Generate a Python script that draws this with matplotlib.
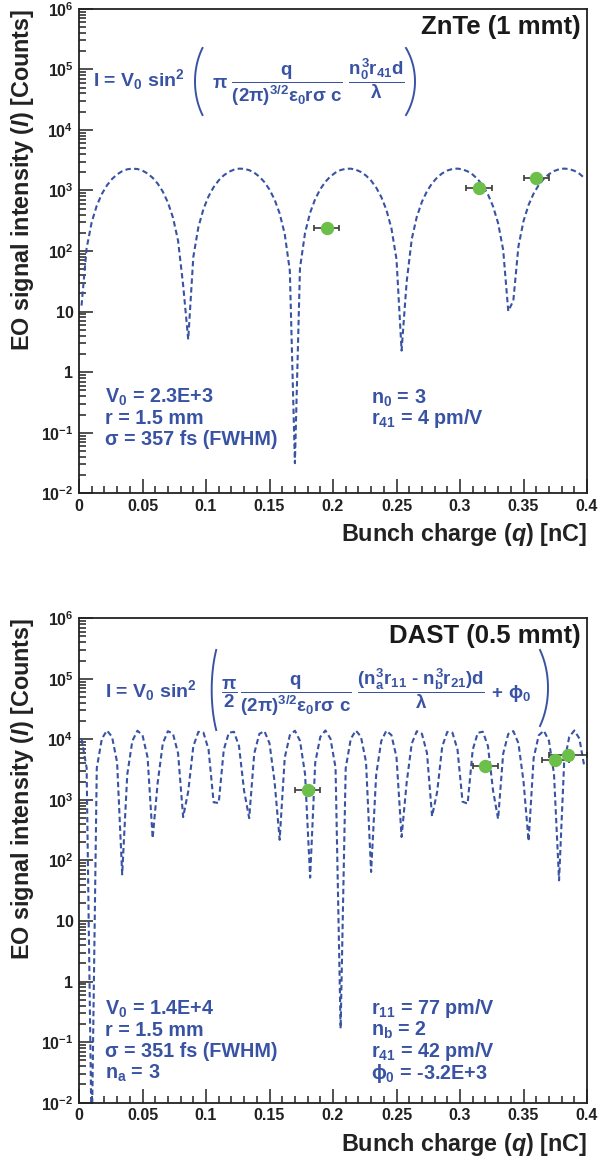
import numpy as np
import matplotlib
matplotlib.use('Agg')
import matplotlib.pyplot as plt
from matplotlib.lines import Line2D
from matplotlib.ticker import MultipleLocator, FixedLocator, FuncFormatter, NullFormatter

plt.rcParams['font.family'] = ['Liberation Sans', 'DejaVu Sans']
plt.rcParams['font.weight'] = 'bold'
plt.rcParams['axes.labelweight'] = 'bold'
plt.rcParams['mathtext.fontset'] = 'custom'
plt.rcParams['mathtext.rm'] = 'Liberation Sans:bold'
plt.rcParams['mathtext.it'] = 'Liberation Sans:bold'
plt.rcParams['mathtext.bf'] = 'Liberation Sans:bold'
plt.rcParams['mathtext.sf'] = 'Liberation Sans:bold:italic'
plt.rcParams['mathtext.fallback'] = 'stixsans'

BLUE = '#3953a4'
GREEN = '#6cc04a'
W, H = 615, 1157

# ZnTe (1 mmt) measurements
zn_q = [0.195, 0.315, 0.360]
zn_counts = [240, 1080, 1580]
zn_qerr = [0.010, 0.010, 0.010]
# model curve parameters
zn_v0 = 2.3e3
zn_first_zero = 0.0
zn_zero_spacing = 0.08495

# DAST (0.5 mmt) measurements
dast_q = [0.180, 0.320, 0.375, 0.385]
dast_counts = [1450, 3600, 4500, 5600]
dast_qerr = [0.010, 0.010, 0.0105, 0.015]
dast_v0 = 1.4e4
dast_first_zero = 0.010003
dast_zero_spacing = 0.024503

# the function is sampled at 100 bin centres over [0, 0.4]
q_fn = np.arange(100) * 0.004 + 0.002

y_decades = [1e-2, 1e-1, 1, 10, 1e2, 1e3, 1e4, 1e5, 1e6]

zn_lines_left = [r'V$_0$ = 2.3E+3', 'r = 1.5 mm', 'σ = 357 fs (FWHM)']
zn_lines_right = [r'n$_0$ = 3', r'r$_{41}$ = 4 pm/V']
dast_lines_left = [r'V$_0$ = 1.4E+4', 'r = 1.5 mm', 'σ = 351 fs (FWHM)', r'n$_a$ = 3']
dast_lines_right = [r'r$_{11}$ = 77 pm/V', r'n$_b$ = 2', r'r$_{41}$ = 42 pm/V', r'$\phi_0$ = -3.2E+3']


def px(x, y):
    return x / W, 1 - y / H


def ylab(v, pos):
    e = int(round(np.log10(v)))
    if e == 0:
        return '1'
    if e == 1:
        return '10'
    return r'$10^{%d}$' % e


def paren(fig, x_tip, y_top, y_bot, bulge, left=True):
    span = np.radians(35)
    t = np.linspace(-span, span, 40)
    hh = (y_bot - y_top) / 2
    b = hh / np.sin(span)
    a = bulge / (1 - np.cos(span))
    cy = (y_top + y_bot) / 2
    if left:
        xs = x_tip + a - a * np.cos(t)
    else:
        xs = x_tip - a + a * np.cos(t)
    ys = cy + b * np.sin(t)
    fig.add_artist(Line2D(xs / W, 1 - ys / H, transform=fig.transFigure,
                          color=BLUE, lw=1.4))


def setup(ax):
    ax.set_yscale('log')
    ax.set_xlim(0, 0.4)
    ax.set_ylim(1e-2, 1e6)
    ax.xaxis.set_major_locator(MultipleLocator(0.05))
    ax.xaxis.set_minor_locator(MultipleLocator(0.01))
    ax.xaxis.set_major_formatter(FuncFormatter(lambda v, p: '%g' % round(v, 3)))
    minors = [m * d for d in y_decades[:-1] for m in range(2, 10)]
    ax.yaxis.set_major_locator(FixedLocator(y_decades))
    ax.yaxis.set_minor_locator(FixedLocator(minors))
    ax.yaxis.set_major_formatter(FuncFormatter(ylab))
    ax.yaxis.set_minor_formatter(NullFormatter())
    ax.tick_params(which='both', direction='in', top=False, right=False,
                   labelsize=11.5, colors='#222222', width=1.1)
    ax.tick_params(which='major', length=10)
    ax.tick_params(which='minor', length=5)
    ax.tick_params(axis='x', pad=4)
    ax.tick_params(axis='y', pad=4)
    for s in ax.spines.values():
        s.set_linewidth(1.3)
        s.set_color('#222222')
    ax.set_xlabel(r'Bunch charge ($\mathsf{q}$) [nC]', fontsize=16.8, loc='right',
                  color='#222222', fontweight='bold')
    ax.xaxis.set_label_coords(1.0, -0.058)
    ax.set_ylabel(r'EO signal intensity ($\mathsf{I}$) [Counts]', fontsize=16.8,
                  loc='top', color='#222222', fontweight='bold')
    ax.yaxis.set_label_coords(-0.085, 1.0)


fig = plt.figure(figsize=(6.15, 11.57), dpi=100)
ax1 = fig.add_axes([79 / W, 1 - 493.3 / H, 508 / W, 484.5 / H])
ax2 = fig.add_axes([79 / W, 1 - 1102.7 / H, 508 / W, 484.5 / H])

for ax, v0, z0, sp, q, c, qe, name in [
        (ax1, zn_v0, zn_first_zero, zn_zero_spacing, zn_q, zn_counts, zn_qerr, 'ZnTe (1 mmt)'),
        (ax2, dast_v0, dast_first_zero, dast_zero_spacing, dast_q, dast_counts, dast_qerr, 'DAST (0.5 mmt)')]:
    setup(ax)
    model = v0 * np.sin(np.pi * (q_fn - z0) / sp) ** 2
    ax.plot(q_fn, model, color=BLUE, lw=1.5, dashes=(2.6, 1.6))
    ax.errorbar(q, c, xerr=qe, fmt='none', ecolor='#3a3a3a', elinewidth=1.2,
                capsize=2.5, capthick=1.2)
    ax.plot(q, c, 'o', ms=8.6, color=GREEN, mec=GREEN)
    ax.text(0.987, 0.988, name, transform=ax.transAxes, ha='right', va='top',
            fontsize=18.5, color='#1a1a1a')
    for lbl in ax.get_xticklabels() + ax.get_yticklabels():
        lbl.set_fontweight('bold')

# formula, ZnTe
fig.text(*px(92.7, 86), r'I = V$_0$ sin$^2$', color=BLUE, fontsize=14, va='baseline')
fig.text(*px(212, 82),
         r'$\pi\,\,\dfrac{q}{(2\pi)^{3/2}\epsilon_0 r\sigma\ c}\ \dfrac{n_0^3 r_{41} d}{\lambda}$',
         color=BLUE, fontsize=13.5, va='center')
paren(fig, 195, 48, 115, 7.5, left=True)
paren(fig, 415, 48, 115, 9, left=False)

# formula, DAST
fig.text(*px(105, 697), r'I = V$_0$ sin$^2$', color=BLUE, fontsize=14, va='baseline')
fig.text(*px(221, 692),
         r'$\dfrac{\pi}{2}\,\dfrac{q}{(2\pi)^{3/2}\epsilon_0 r\sigma\ c}\ '
         r'\dfrac{(n_a^3 r_{11}\text{ - }n_b^3 r_{21}) d}{\lambda}\,+\,\phi_0$',
         color=BLUE, fontsize=13.5, va='center')
paren(fig, 211.7, 650, 730, 4.5, left=True)
paren(fig, 548, 650, 726, 8, left=False)

# parameter lists
for i, s in enumerate(zn_lines_left):
    fig.text(*px(105, 402.7 + 21.2 * i), s, color=BLUE, fontsize=14.2, va='baseline')
for i, s in enumerate(zn_lines_right):
    fig.text(*px(370.7, 403.5 + 20.5 * i), s, color=BLUE, fontsize=14.2, va='baseline')
for i, s in enumerate(dast_lines_left):
    fig.text(*px(105, 1014.3 + 21.5 * i), s, color=BLUE, fontsize=14.2, va='baseline')
for i, s in enumerate(dast_lines_right):
    fig.text(*px(370.7, 1014.3 + 21.5 * i), s, color=BLUE, fontsize=14.2, va='baseline')

fig.savefig('out.png', dpi=100)
